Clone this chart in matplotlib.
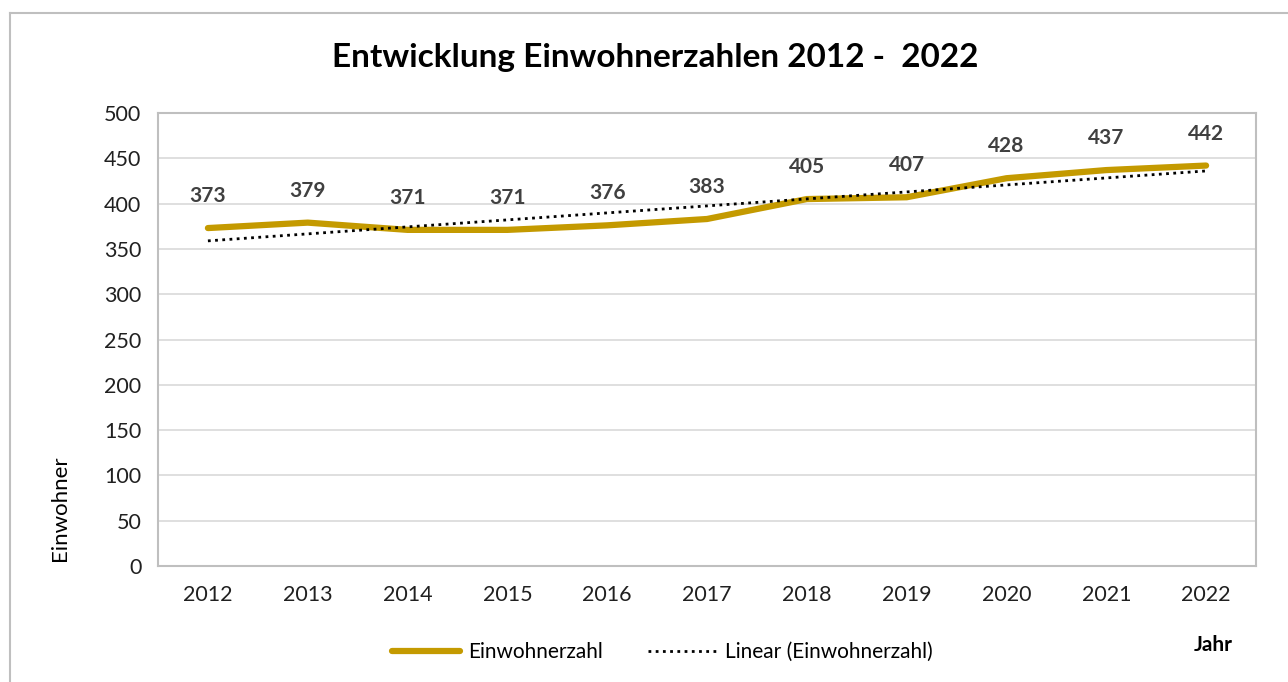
import numpy as np
import matplotlib.pyplot as plt
from matplotlib.lines import Line2D

plt.rcParams['font.family'] = ['Lato', 'DejaVu Sans']

jahre = ['2012', '2013', '2014', '2015', '2016', '2017', '2018', '2019', '2020', '2021', '2022']
einwohner = [373, 379, 371, 371, 376, 383, 405, 407, 428, 437, 442]
y_ticks = [0, 50, 100, 150, 200, 250, 300, 350, 400, 450, 500]

gold = '#C49A00'
grey_txt = '#404040'
dots = (0, (1, 1.6))

fig = plt.figure(figsize=(12.88, 6.82), dpi=100)
ax = fig.add_axes([158 / 1288, 1 - 566 / 682, (1256 - 158) / 1288, (566 - 113) / 682])

x = np.arange(len(jahre))
ax.plot(x, einwohner, color=gold, lw=4.5, solid_capstyle='round', zorder=3)

# lineare Trendlinie wie in Excel
k, d = np.polyfit(x, einwohner, 1)
ax.plot(x, k * x + d, color='black', lw=2, linestyle=dots, zorder=4)

for xi, v in zip(x, einwohner):
    ax.annotate(str(v), (xi, v), xytext=(0, 23), textcoords='offset points',
                ha='center', va='center', fontsize=15, fontweight='bold', color=grey_txt)

ax.set_xlim(-0.5, len(jahre) - 0.5)
ax.set_ylim(0, 500)
ax.set_yticks(y_ticks)
ax.set_xticks(x)
ax.set_xticklabels(jahre)
ax.tick_params(length=0, labelsize=15.5, labelcolor='#202020')
ax.tick_params(axis='x', pad=14)
ax.tick_params(axis='y', pad=12)
ax.grid(axis='y', color='#D9D9D9', lw=1.2)
ax.set_axisbelow(True)
for s in ax.spines.values():
    s.set_color('#BFBFBF')
    s.set_linewidth(1.5)

fig.text(655 / 1288, 1 - 58 / 682, 'Entwicklung Einwohnerzahlen 2012 -  2022',
         ha='center', va='center', fontsize=24, fontweight='bold', color='black')
fig.text(60 / 1288, 1 - 508 / 682, 'Einwohner', rotation=90, ha='center', va='center',
         fontsize=16, color='black')
fig.text(1213 / 1288, 1 - 645 / 682, 'Jahr', ha='center', va='center',
         fontsize=15, fontweight='bold', color='black')

handles = [Line2D([], [], color=gold, lw=4.5, solid_capstyle='round'),
           Line2D([], [], color='black', lw=2, linestyle=dots)]
fig.legend(handles, ['Einwohnerzahl', 'Linear (Einwohnerzahl)'], loc='center',
           bbox_to_anchor=(662 / 1288, 1 - 652 / 682), ncol=2, frameon=False,
           fontsize=15, handlelength=3.3, handletextpad=0.35, columnspacing=2.2)

# Rahmen des Diagrammbereichs
fig.add_artist(Line2D([10 / 1288, 10 / 1288], [0, 1 - 13 / 682], transform=fig.transFigure,
                      color='#BFBFBF', lw=1.5))
fig.add_artist(Line2D([10 / 1288, 1], [1 - 13 / 682, 1 - 13 / 682], transform=fig.transFigure,
                      color='#BFBFBF', lw=1.5))

fig.savefig('out.png', dpi=100, facecolor='white')
